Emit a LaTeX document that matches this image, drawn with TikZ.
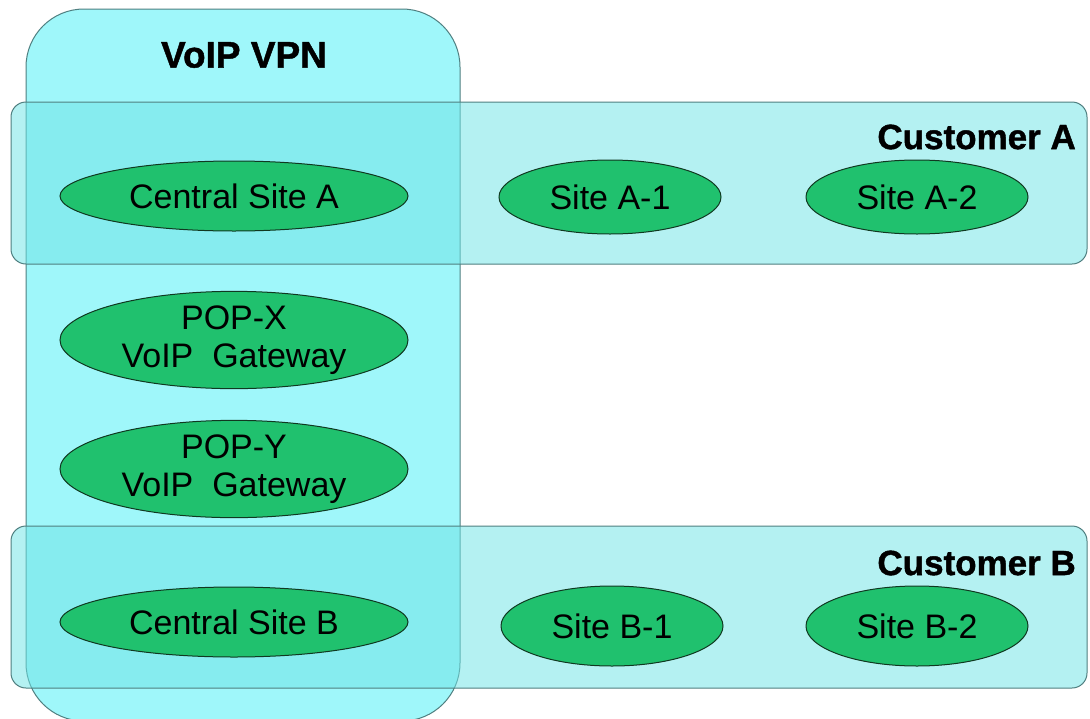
\documentclass[tikz,border=0pt]{standalone}
\usepackage{fontspec}
\setmainfont{Liberation Sans}
\newfontfamily\heavyfont[FakeBold=1.2]{Liberation Sans Bold}
\usetikzlibrary{shapes.geometric}
\definecolor{vpnfill}{HTML}{9FF7FA}
\definecolor{custfill}{RGB}{113,228,230}
\definecolor{sitegreen}{HTML}{20C16E}
\definecolor{boxline}{HTML}{4F7F80}
\definecolor{siteline}{HTML}{103820}
\begin{document}
\begin{tikzpicture}[x=1pt,y=-1pt,
  vpnbox/.style={rectangle, draw=boxline, line width=1pt, fill=vpnfill, rounded corners=58pt, inner sep=0pt},
  custbox/.style={rectangle, draw=boxline, line width=1pt, fill=custfill, fill opacity=0.53, rounded corners=15pt, inner sep=0pt, minimum width=1076pt, minimum height=162pt},
  site/.style={ellipse, draw=siteline, line width=1pt, fill=sitegreen, inner sep=0pt, font=\fontsize{34}{38}\selectfont, align=center},
  bigsite/.style={site, minimum width=348pt, minimum height=70pt},
  smallsite/.style={site, minimum width=222pt, minimum height=74pt},
  gw/.style={site, minimum width=348pt, minimum height=88pt},
  title/.style={font=\fontsize{35}{38}\selectfont\heavyfont, inner sep=0pt}]
\useasboundingbox (0,0) rectangle (1090,718);
\node[vpnbox, minimum width=434pt, minimum height=712pt] (vpn) at (243,365) {};
\node[custbox] (custA) at (549,183) {};
\node[custbox] (custB) at (549,607) {};
\node[title, font=\fontsize{37}{40}\selectfont\heavyfont] (vpnlabel) at (244,55) {VoIP VPN};
\node[title, anchor=east] (custAlabel) at (1076,137) {Customer A};
\node[title, anchor=east] (custBlabel) at (1076,563) {Customer B};
\node[bigsite] (csa) at (234,196) {Central Site A};
\node[smallsite] (a1) at (610,197) {Site A-1};
\node[smallsite] (a2) at (917,197) {Site A-2};
\node[gw] (popx) at (234,340) {POP-X\\VoIP~~Gateway};
\node[gw] (popy) at (234,469) {POP-Y\\VoIP~~Gateway};
\node[bigsite] (csb) at (234,622) {Central Site B};
\node[smallsite, minimum height=80pt] (b1) at (612,626) {Site B-1};
\node[smallsite, minimum height=80pt] (b2) at (917,626) {Site B-2};
\end{tikzpicture}
\end{document}
